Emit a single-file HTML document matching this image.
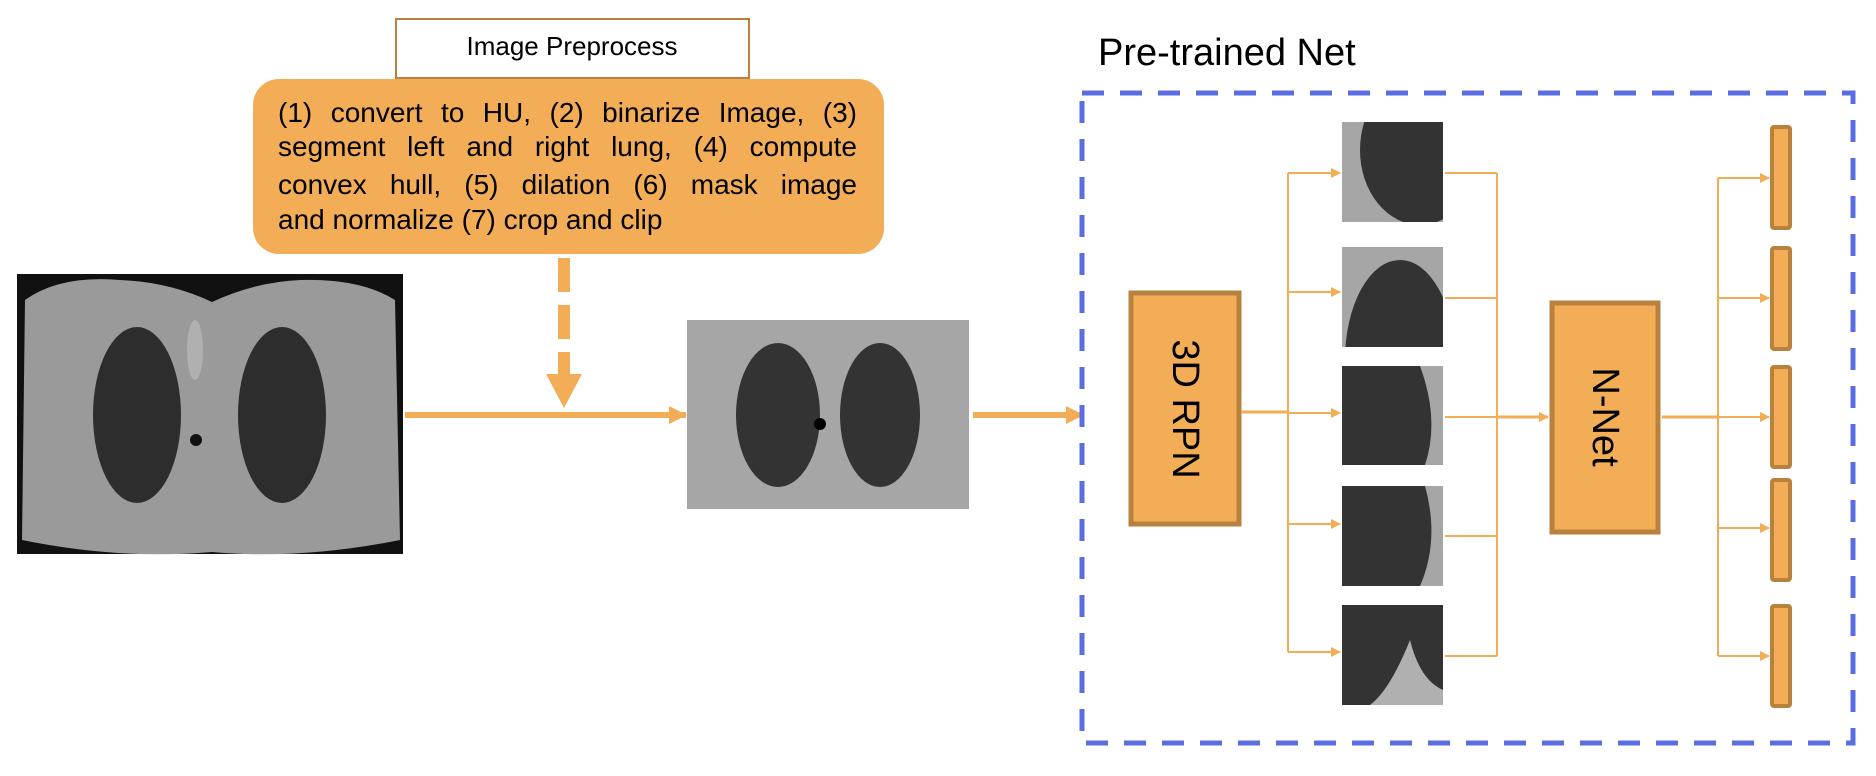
<!DOCTYPE html>
<html><head><meta charset="utf-8"><style>
html,body{margin:0;padding:0;background:#fff;}
body{width:1876px;height:776px;position:relative;overflow:hidden;font-family:"Liberation Sans",Arial,sans-serif;}
.ln{position:absolute;left:278px;width:579px;font-size:28px;line-height:35px;color:#000;white-space:nowrap;}
.j{text-align:justify;text-align-last:justify;}
</style></head><body>
<svg width="1876" height="776" style="position:absolute;left:0;top:0">
<defs>
<marker id="a" markerWidth="10" markerHeight="10" refX="9" refY="5" orient="auto" markerUnits="userSpaceOnUse"><path d="M0,0 L10,5 L0,10 Z" fill="#f2ad56"/></marker>
<marker id="b" markerWidth="18" markerHeight="18" refX="17" refY="9" orient="auto" markerUnits="userSpaceOnUse"><path d="M0,0 L18,9 L0,18 Z" fill="#f2ad56"/></marker>
<clipPath id="c1"><rect x="1342" y="122" width="101" height="100"/></clipPath>
<clipPath id="c2"><rect x="1342" y="247" width="101" height="100"/></clipPath>
<clipPath id="c3"><rect x="1342" y="366" width="101" height="99"/></clipPath>
<clipPath id="c4"><rect x="1342" y="486" width="101" height="100"/></clipPath>
<clipPath id="c5"><rect x="1342" y="605" width="101" height="100"/></clipPath>
</defs>
<rect x="396" y="19" width="353" height="59" fill="#fff" stroke="#b8823e" stroke-width="2"/>
<text x="572" y="55" font-size="26" text-anchor="middle" font-family="Liberation Sans, Arial, sans-serif">Image Preprocess</text>
<rect x="253" y="79" width="631" height="175" rx="26" fill="#f2ad56"/>
<line x1="564" y1="258" x2="564" y2="376" stroke="#f2ad56" stroke-width="12" stroke-dasharray="34 13"/>
<path d="M546,374 L582,374 L564,408 Z" fill="#f2ad56"/>
<rect x="17" y="274" width="386" height="280" fill="#111"/>
<path d="M25,300 Q60,275 120,280 Q170,282 212,302 Q255,282 300,280 Q360,278 395,300 L400,540 Q300,560 212,552 Q120,560 22,540 Z" fill="#9a9a9a"/>
<ellipse cx="137" cy="415" rx="44" ry="88" fill="#2d2d2d"/>
<ellipse cx="282" cy="415" rx="44" ry="88" fill="#2d2d2d"/>
<ellipse cx="195" cy="350" rx="8" ry="30" fill="#b0b0b0"/>
<circle cx="196" cy="440" r="6" fill="#111"/>
<line x1="405" y1="415" x2="686" y2="415" stroke="#f2ad56" stroke-width="6" marker-end="url(#b)"/>
<rect x="687" y="320" width="282" height="189" fill="#a6a6a6"/>
<ellipse cx="778" cy="415" rx="42" ry="72" fill="#333"/>
<ellipse cx="880" cy="415" rx="40" ry="72" fill="#333"/>
<circle cx="820" cy="424" r="6" fill="#000"/>
<line x1="973" y1="415" x2="1083" y2="415" stroke="#f2ad56" stroke-width="6" marker-end="url(#b)"/>
<text x="1098" y="65" font-size="38" font-family="Liberation Sans, Arial, sans-serif">Pre-trained Net</text>
<rect x="1082" y="93" width="771" height="650" fill="none" stroke="#5b6ee1" stroke-width="5" stroke-dasharray="22 16"/>
<rect x="1131" y="293" width="108" height="231" fill="#f2ad56" stroke="#b8823e" stroke-width="5"/>
<text transform="translate(1185,409) rotate(90)" font-size="38" text-anchor="middle" dominant-baseline="central" font-family="Liberation Sans, Arial, sans-serif">3D RPN</text>
<rect x="1552" y="303" width="106" height="229" fill="#f2ad56" stroke="#b8823e" stroke-width="5"/>
<text transform="translate(1605,417) rotate(90)" font-size="38" text-anchor="middle" dominant-baseline="central" font-family="Liberation Sans, Arial, sans-serif">N-Net</text>
<g>
<rect x="1342" y="122" width="101" height="100" fill="#a6a6a6"/><ellipse clip-path="url(#c1)" cx="1420" cy="150" rx="60" ry="75" fill="#333"/>
<rect x="1342" y="247" width="101" height="100" fill="#a6a6a6"/><ellipse clip-path="url(#c2)" cx="1400" cy="360" rx="55" ry="100" fill="#333"/>
<rect x="1342" y="366" width="101" height="99" fill="#333"/><path d="M1420,366 Q1440,420 1425,465 L1443,465 L1443,366 Z" fill="#a6a6a6"/>
<rect x="1342" y="486" width="101" height="100" fill="#333"/><path d="M1425,486 Q1440,540 1420,586 L1443,586 L1443,486 Z" fill="#a6a6a6"/>
<rect x="1342" y="605" width="101" height="100" fill="#333"/><path d="M1410,640 Q1420,680 1443,690 L1443,705 L1370,705 Q1390,690 1410,640 Z" fill="#b0b0b0"/>
</g>
<g stroke="#f2ad56" stroke-width="2" fill="none">
<line x1="1241" y1="412" x2="1288" y2="412" stroke-width="3"/>
<line x1="1288" y1="173" x2="1288" y2="652"/>
<line x1="1288" y1="173" x2="1340" y2="173" marker-end="url(#a)"/>
<line x1="1288" y1="292" x2="1340" y2="292" marker-end="url(#a)"/>
<line x1="1288" y1="413" x2="1340" y2="413" marker-end="url(#a)"/>
<line x1="1288" y1="524" x2="1340" y2="524" marker-end="url(#a)"/>
<line x1="1288" y1="652" x2="1340" y2="652" marker-end="url(#a)"/>
<line x1="1445" y1="173" x2="1497" y2="173"/>
<line x1="1445" y1="298" x2="1497" y2="298"/>
<line x1="1445" y1="417" x2="1497" y2="417"/>
<line x1="1445" y1="536" x2="1497" y2="536"/>
<line x1="1445" y1="656" x2="1497" y2="656"/>
<line x1="1497" y1="173" x2="1497" y2="656"/>
<line x1="1497" y1="417" x2="1548" y2="417" stroke-width="3" marker-end="url(#a)"/>
<line x1="1662" y1="417" x2="1718" y2="417" stroke-width="3"/>
<line x1="1718" y1="178" x2="1718" y2="656"/>
<line x1="1718" y1="178" x2="1769" y2="178" marker-end="url(#a)"/>
<line x1="1718" y1="298" x2="1769" y2="298" marker-end="url(#a)"/>
<line x1="1718" y1="417" x2="1769" y2="417" marker-end="url(#a)"/>
<line x1="1718" y1="528" x2="1769" y2="528" marker-end="url(#a)"/>
<line x1="1718" y1="656" x2="1769" y2="656" marker-end="url(#a)"/>
</g>
<g fill="#f2ad56" stroke="#b8823e" stroke-width="4">
<rect x="1772" y="127" width="18" height="101" rx="2"/>
<rect x="1772" y="248" width="18" height="101" rx="2"/>
<rect x="1772" y="367" width="18" height="100" rx="2"/>
<rect x="1772" y="480" width="18" height="100" rx="2"/>
<rect x="1772" y="606" width="18" height="100" rx="2"/>
</g>
</svg>
<div class="ln j" style="top:95px">(1) convert to HU, (2) binarize Image, (3)</div>
<div class="ln j" style="top:129px">segment left and right lung, (4) compute</div>
<div class="ln j" style="top:167px">convex hull, (5) dilation (6) mask image</div>
<div class="ln" style="top:202px">and normalize (7) crop and clip</div>
</body></html>
